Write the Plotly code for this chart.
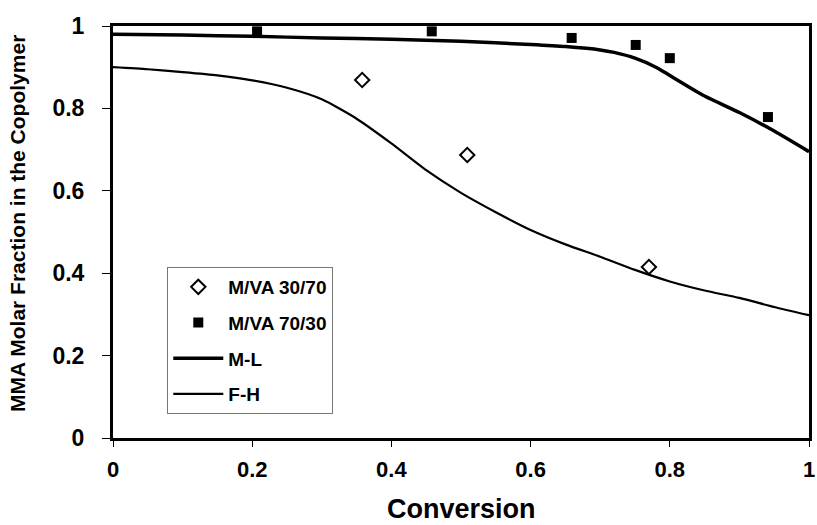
import plotly.graph_objects as go

# measured points
conv_3070 = [0.358, 0.509, 0.770]
mma_3070 = [0.869, 0.687, 0.415]

conv_7030 = [0.207, 0.458, 0.659, 0.751, 0.800, 0.941]
mma_7030 = [0.987, 0.987, 0.971, 0.954, 0.922, 0.779]

# model curves
ml_x = [0, 0.1, 0.2, 0.3, 0.4, 0.5, 0.6, 0.65, 0.7, 0.72, 0.75, 0.78, 0.8, 0.85, 0.9, 0.95, 1.0]
ml_y = [0.980, 0.978, 0.975, 0.971, 0.968, 0.963, 0.955, 0.950, 0.942, 0.936, 0.922, 0.900, 0.880, 0.830, 0.790, 0.745, 0.695]

fh_x = [0, 0.05, 0.1, 0.15, 0.2, 0.25, 0.3, 0.35, 0.4, 0.45, 0.5, 0.55, 0.6, 0.65, 0.7, 0.75, 0.8, 0.85, 0.9, 0.95, 1.0]
fh_y = [0.900, 0.895, 0.888, 0.880, 0.868, 0.850, 0.822, 0.775, 0.715, 0.650, 0.595, 0.548, 0.505, 0.470, 0.440, 0.408, 0.380, 0.358, 0.340, 0.318, 0.298]

fig = go.Figure()

fig.add_trace(go.Scatter(x=ml_x, y=ml_y, mode='lines', name='M-L', legendgroup='c',
                         line=dict(color='black', width=3.5, shape='spline', smoothing=0.6), legendrank=3))
fig.add_trace(go.Scatter(x=fh_x, y=fh_y, mode='lines', name='F-H', legendgroup='d',
                         line=dict(color='black', width=2.2, shape='spline', smoothing=0.6), legendrank=4))
fig.add_trace(go.Scatter(x=conv_3070, y=mma_3070, mode='markers', name='M/VA 30/70', legendgroup='a',
                         marker=dict(symbol='diamond-open', size=11, color='black', line=dict(width=2)),
                         legendrank=1))
fig.add_trace(go.Scatter(x=conv_7030, y=mma_7030, mode='markers', name='M/VA 70/30', legendgroup='b',
                         marker=dict(symbol='square', size=10, color='black'), legendrank=2))

bold = dict(family='Liberation Sans', color='black', weight='bold')

fig.update_xaxes(range=[0, 1], dtick=0.2, tickformat='.1~f', automargin=False,
                 showline=True, linecolor='black', linewidth=3, mirror=True,
                 ticks='outside', ticklen=6, tickcolor='black', tickwidth=1,
                 ticklabelstandoff=4,
                 showgrid=False, zeroline=False, tickfont=dict(bold, size=22))
fig.update_yaxes(range=[0, 1], dtick=0.2, tickformat='.1~f', automargin=False,
                 showline=True, linecolor='black', linewidth=3, mirror=True,
                 ticks='outside', ticklen=8, tickcolor='black', tickwidth=1,
                 ticklabelstandoff=13,
                 showgrid=False, zeroline=False, tickfont=dict(bold, size=23))

# axis titles
fig.add_annotation(text='Conversion', xref='paper', yref='paper', x=0.5, y=-0.172,
                   xanchor='center', yanchor='middle', showarrow=False,
                   font=dict(bold, size=27))
fig.add_annotation(text='MMA Molar Fraction in the Copolymer', xref='paper', yref='paper',
                   x=-0.1365, y=0.522, textangle=-90, xanchor='center', yanchor='middle',
                   showarrow=False, font=dict(bold, size=21))

fig.update_layout(
    width=817, height=525,
    margin=dict(l=113, r=8, t=26, b=87),
    paper_bgcolor='white', plot_bgcolor='white',
    showlegend=True,
    legend=dict(x=0.078, y=0.415, xanchor='left', yanchor='top',
                bordercolor='#777777', borderwidth=1, bgcolor='white',
                traceorder='grouped', tracegroupgap=8, itemwidth=50,
                font=dict(bold, size=19)),
)

# drop the default page margin so the figure sits at the window corner
fig.write_html("out.html", config={'displayModeBar': False},
               post_script="document.body.style.margin='0';")
